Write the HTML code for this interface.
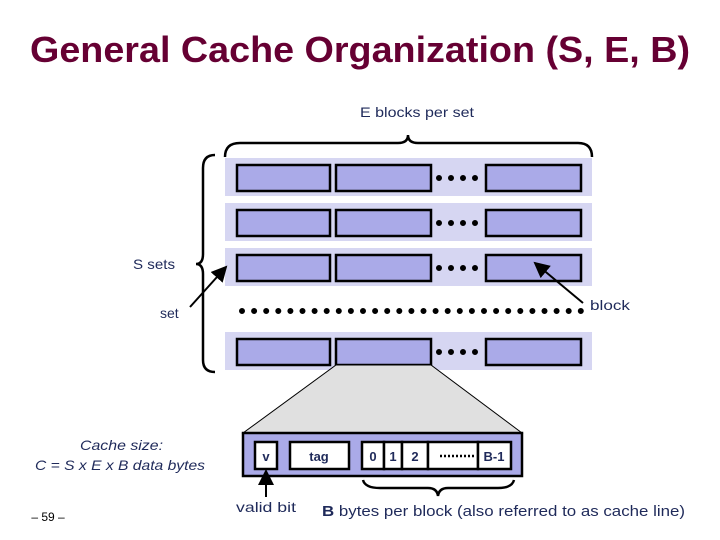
<!DOCTYPE html>
<html><head><style>
body{margin:0;background:#fff;}
svg{display:block;}
</style></head><body>
<svg width="720" height="540" viewBox="0 0 720 540" xmlns="http://www.w3.org/2000/svg">
<defs><marker id="a" markerWidth="8" markerHeight="8" refX="7" refY="4" orient="auto"><path d="M0,0 L8,4 L0,8 z" fill="#000"/></marker></defs>
<text x="30" y="62" textLength="660" lengthAdjust="spacingAndGlyphs" font-family="Liberation Sans" font-weight="bold" font-size="36" fill="#660033">General Cache Organization (S, E, B)</text>
<text x="360" y="117" textLength="114" lengthAdjust="spacingAndGlyphs" font-family="Liberation Sans" font-size="14" fill="#1f2a5a">E blocks per set</text>
<path d="M225,157 Q225,143 240,143 L398,143 Q408,143 408,135 Q408,143 418,143 L578,143 Q592,143 592,157" fill="none" stroke="#000" stroke-width="2.5"/>
<path d="M215,155 Q203,155 203,168 L203,254 Q203,264 196,264 Q203,264 203,274 L203,360 Q203,372 215,372" fill="none" stroke="#000" stroke-width="2.5"/>
<g fill="#d6d6f2"><rect x="225" y="158" width="367" height="38"/><rect x="225" y="203" width="367" height="38"/><rect x="225" y="248" width="367" height="38"/><rect x="225" y="332" width="367" height="38"/></g>
<g fill="#aaaae8" stroke="#000" stroke-width="2.5">
<rect x="237" y="165" width="93" height="26"/><rect x="336" y="165" width="95" height="26"/><rect x="486" y="165" width="95" height="26"/>
<rect x="237" y="210" width="93" height="26"/><rect x="336" y="210" width="95" height="26"/><rect x="486" y="210" width="95" height="26"/>
<rect x="237" y="255" width="93" height="26"/><rect x="336" y="255" width="95" height="26"/><rect x="486" y="255" width="95" height="26"/>
<rect x="237" y="339" width="93" height="26"/><rect x="336" y="339" width="95" height="26"/><rect x="486" y="339" width="95" height="26"/>
</g>
<g fill="none" stroke="#000" stroke-width="6" stroke-linecap="round" stroke-dasharray="0 12">
<path d="M439,178 H485"/><path d="M439,223 H485"/><path d="M439,268 H485"/><path d="M439,352 H485"/>
<path d="M242,311 H582" stroke-dasharray="0 12.1"/>
</g>
<text x="133" y="269" textLength="42" lengthAdjust="spacingAndGlyphs" font-family="Liberation Sans" font-size="14" fill="#1f2a5a">S sets</text>
<text x="160" y="318" font-family="Liberation Sans" font-size="14" fill="#1f2a5a">set</text>
<text x="590" y="310" textLength="40" lengthAdjust="spacingAndGlyphs" font-family="Liberation Sans" font-size="14" fill="#1f2a5a">block</text>
<line x1="190" y1="307" x2="226" y2="267" stroke="#000" stroke-width="2" marker-end="url(#a)"/>
<line x1="583" y1="303" x2="535" y2="263" stroke="#000" stroke-width="2" marker-end="url(#a)"/>
<path d="M336,365 L431,365 L522,433 L243,433 Z" fill="#e0e0e0" stroke="#000" stroke-width="1"/>
<rect x="243" y="433" width="279" height="43" fill="#aaaae8" stroke="#000" stroke-width="2.5"/>
<g fill="#fff" stroke="#000" stroke-width="2.5">
<rect x="255" y="442" width="22" height="27"/><rect x="290" y="442" width="59" height="27"/>
<rect x="362" y="442" width="22" height="27"/><rect x="384" y="442" width="18" height="27"/><rect x="402" y="442" width="26" height="27"/><rect x="428" y="442" width="50" height="27"/><rect x="478" y="442" width="33" height="27"/>
</g>
<g font-family="Liberation Sans" font-size="13" fill="#1f2a5a" font-weight="bold" text-anchor="middle">
<text x="266" y="461">v</text><text x="319" y="461">tag</text><text x="373" y="461">0</text><text x="393" y="461">1</text><text x="415" y="461">2</text><text x="494" y="461">B-1</text>
</g>
<path d="M440,456 H475" stroke="#000" stroke-width="2.5" stroke-dasharray="2 2"/>
<path d="M363,480 Q365,488 380,488 L428,488 Q437,488 438,496 Q439,488 448,488 L498,488 Q512,488 514,480" fill="none" stroke="#000" stroke-width="2.5"/>
<line x1="266" y1="497" x2="266" y2="471" stroke="#000" stroke-width="2" marker-end="url(#a)"/>
<text x="236" y="512" textLength="60" lengthAdjust="spacingAndGlyphs" font-family="Liberation Sans" font-size="14" fill="#1f2a5a">valid bit</text>
<text x="322" y="516" textLength="363" lengthAdjust="spacingAndGlyphs" font-family="Liberation Sans" font-size="15" fill="#1f2a5a"><tspan font-weight="bold">B</tspan>  bytes per block (also referred to as cache line)</text>
<text x="80" y="450" textLength="83" lengthAdjust="spacingAndGlyphs" font-family="Liberation Sans" font-style="italic" font-size="14" fill="#1f2a5a">Cache size:</text>
<text x="35" y="470" textLength="170" lengthAdjust="spacingAndGlyphs" font-family="Liberation Sans" font-style="italic" font-size="14" fill="#1f2a5a">C = S x E x B data bytes</text>
<text x="48" y="521" text-anchor="middle" font-family="Liberation Sans" font-size="12" fill="#000">– 59 –</text>
</svg>
</body></html>
